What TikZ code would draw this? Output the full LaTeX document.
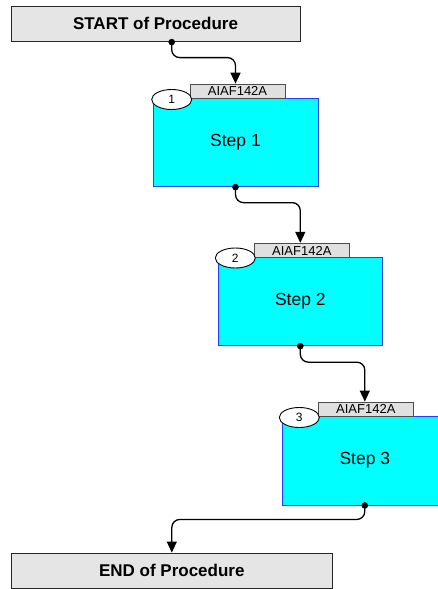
\documentclass[tikz,border=0pt]{standalone}
\usepackage{fontspec}
\setmainfont{Liberation Sans}
\usetikzlibrary{shapes.geometric,arrows.meta}
\definecolor{aquafill}{RGB}{0,255,255}
\definecolor{stepedge}{RGB}{40,60,255}
\definecolor{termfill}{RGB}{229,229,229}
\definecolor{tagfill}{RGB}{224,224,224}
\tikzset{
  termbox/.style={draw=black!85,fill=termfill,line width=0.9pt,inner sep=0pt,font=\fontsize{17}{19}\selectfont\bfseries},
  stepbox/.style={draw=stepedge,fill=aquafill,line width=0.9pt,inner sep=0pt,font=\fontsize{17.5}{20}\selectfont},
  tagbox/.style={draw=black!70,fill=tagfill,line width=0.8pt,inner sep=0pt,minimum width=95pt,minimum height=14.5pt,font=\fontsize{13}{14}\selectfont},
  numell/.style={ellipse,draw=black,fill=white,line width=0.9pt,inner sep=0pt,minimum width=40pt,minimum height=20pt,font=\fontsize{12}{14}\selectfont},
  conn/.style={draw=black,line width=1.3pt,rounded corners=8pt,-{Triangle[length=11pt,width=10pt]}},
  dotc/.style={fill=black}
}
\begin{document}
\begin{tikzpicture}[x=1pt,y=-1pt]
\useasboundingbox (0,0) rectangle (437,589);
\node[termbox,minimum width=289pt,minimum height=35.7pt] (start) at (155.5,23.8) {START of Procedure};
\node[termbox,minimum width=321.7pt,minimum height=35pt] (end) at (171.8,570.5) {END of Procedure};

\node[stepbox,minimum width=165pt,minimum height=88pt] (s1) at (235.5,142.7) {Step 1};
\node[tagbox] (t1) at (237.5,91.3) {AIAF142A};
\node[numell] (e1) at (171.7,99.5) {1};

\node[stepbox,minimum width=164pt,minimum height=88pt] (s2) at (300.3,301.7) {Step 2};
\node[tagbox] (t2) at (301.8,250.5) {AIAF142A};
\node[numell] (e2) at (235.3,258) {2};

\node[stepbox,minimum width=165pt,minimum height=89pt] (s3) at (364.8,460.5) {Step 3};
\node[tagbox] (t3) at (365.8,409.2) {AIAF142A};
\node[numell] (e3) at (299.3,417.5) {3};

\coordinate (d0) at (e1 |- start.south);
\draw[conn] (d0) -- ++(0,15.5) -| (s1.center |- t1.north);
\draw[conn] (s1.south) -- ++(0,15.5) -| (s2.center |- t2.north);
\draw[conn] (s2.south) -- ++(0,16) -| (s3.center |- t3.north);
\draw[conn] (s3.south) -- ++(0,14) -| (end.north);

\fill[dotc] (d0) circle (3.3pt);
\fill[dotc] (s1.south) circle (3.3pt);
\fill[dotc] (s2.south) circle (3.3pt);
\fill[dotc] (s3.south) circle (3.3pt);
\end{tikzpicture}
\end{document}
